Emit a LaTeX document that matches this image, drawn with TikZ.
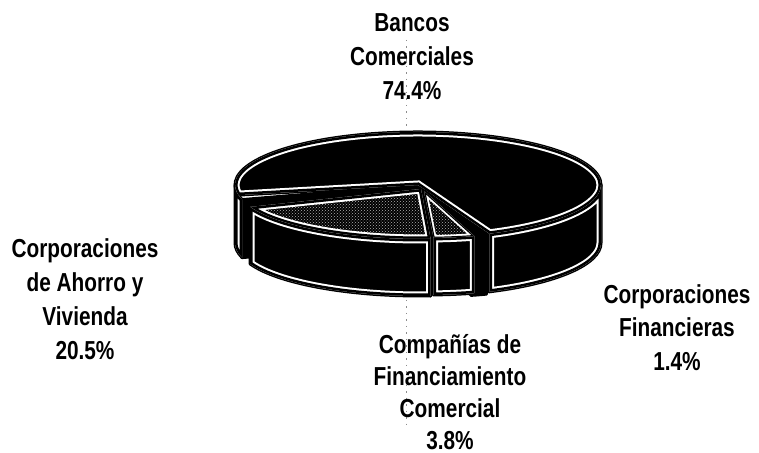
\documentclass[tikz,border=0pt]{standalone}
\usepackage{fontspec}
\newfontfamily\lab[FakeStretch=0.8]{Liberation Sans Bold}
\usetikzlibrary{calc,patterns}
% path macros: apex, start angle, end angle, rx, ry (, height)
\newcommand\TopF[5]{(#1) -- ($(#1)+(#2:#4 and #5)$) arc[start angle=#2,end angle=#3,x radius=#4,y radius=#5] -- cycle}
\newcommand\SideF[6]{($(#1)+(#2:#4 and #5)$) arc[start angle=#2,end angle=#3,x radius=#4,y radius=#5] -- ++(0,-#6) arc[start angle=#3,end angle=#2,x radius=#4,y radius=#5] -- cycle}
\newcommand\CutF[5]{(#1) -- ($(#1)+(#2:#3 and #4)$) -- ++(0,-#5) -- ($(#1)+(0,-#5)$) -- cycle}
\newcommand\Sil[1]{\draw[silh] #1;}
\newcommand\Inset[1]{\begin{scope}\clip #1; \fill[black] #1; \draw[white,line width=9pt] #1; \draw[black,line width=5pt] #1; \end{scope}}
\begin{document}
\begin{tikzpicture}[x=1pt,y=1pt,
  lbl/.style={font=\lab\fontsize{26}{34}\selectfont, align=center, inner sep=0pt, anchor=north, text=black},
  guide/.style={draw=black!45, line width=0.8pt, dash pattern=on 1.5pt off 5pt},
  silh/.style={draw=black, fill=black, line width=3pt, line join=round}]
\useasboundingbox (0,0) rectangle (759,452);
% guide line
\coordinate (g1) at (406,412);
\coordinate (g2) at (406,22);
\draw[guide] (g1) -- (g2);
% apexes
\coordinate (C0) at (418,267); % Bancos
\coordinate (F0) at (424,261); % Corporaciones Financieras
\coordinate (A0) at (421,263); % Ahorro y Vivienda
\coordinate (B0) at (424,261); % Companias
% Bancos Comerciales 74.4%
\Sil{\TopF{C0}{-67}{191}{183}{53}}
\Sil{\SideF{C0}{-67}{0}{183}{53}{58}}
\Sil{\SideF{C0}{180}{196}{183}{53}{58}}
\Sil{\CutF{C0}{196}{183}{53}{58}}
\Sil{\CutF{C0}{-67}{183}{53}{58}}
\Inset{\TopF{C0}{-67}{191}{183}{53}}
\Inset{\SideF{C0}{-67}{0}{183}{53}{58}}
\Inset{\SideF{C0}{180}{196}{183}{53}{58}}
% Corporaciones Financieras 1.4%
\Sil{\TopF{F0}{285}{290}{183}{48}}
\Sil{\SideF{F0}{285}{290}{183}{48}{58}}
\Sil{\CutF{F0}{285}{183}{48}{58}}
% Corporaciones de Ahorro y Vivienda 20.5%
\Sil{\CutF{A0}{273}{183}{50}{57}}
\Sil{\TopF{A0}{201}{273}{183}{50}}
\Sil{\SideF{A0}{201}{273}{183}{50}{57}}
\begin{scope}
  \clip \TopF{A0}{201}{273}{183}{50};
  \fill[black] \TopF{A0}{201}{273}{183}{50};
  \fill[pattern=crosshatch dots, pattern color=black!30] \TopF{A0}{201}{273}{183}{50};
  \draw[white,line width=9pt] \TopF{A0}{201}{273}{183}{50};
  \draw[black,line width=5pt] \TopF{A0}{201}{273}{183}{50};
\end{scope}
\Inset{\SideF{A0}{201}{273}{183}{50}{57}}
% Companias de Financiamiento Comercial 3.8%
\Sil{\TopF{B0}{273}{286}{183}{47}}
\Sil{\SideF{B0}{273}{286}{183}{47}{57}}
\begin{scope}
  \clip \TopF{B0}{273}{286}{183}{47};
  \fill[black] \TopF{B0}{273}{286}{183}{47};
  \fill[pattern=crosshatch dots, pattern color=black!30] \TopF{B0}{273}{286}{183}{47};
  \draw[white,line width=6pt] \TopF{B0}{273}{286}{183}{47};
  \draw[black,line width=2.4pt] \TopF{B0}{273}{286}{183}{47};
\end{scope}
\Inset{\SideF{B0}{273}{286}{183}{47}{57}}
% labels
\node[lbl] (bancos) at (412,439) {Bancos\\Comerciales\\74.4\%};
\node[lbl] (ahorro) at (85,214) {Corporaciones\\de Ahorro y\\Vivienda\\20.5\%};
\node[lbl, font=\lab\fontsize{26}{32}\selectfont] (compan) at (450,118) {Compañías de\\Financiamiento\\Comercial\\3.8\%};
\node[lbl, font=\lab\fontsize{26}{33.5}\selectfont] (financ) at (677,168) {Corporaciones\\Financieras\\1.4\%};
\end{tikzpicture}
\end{document}
